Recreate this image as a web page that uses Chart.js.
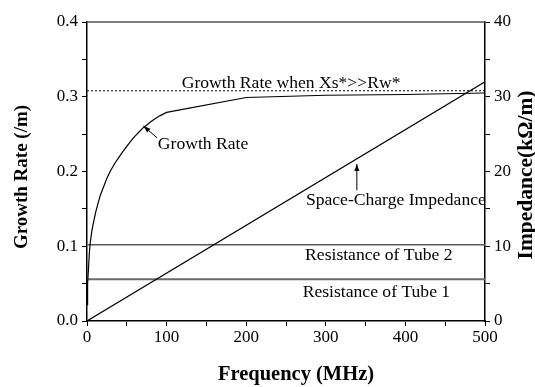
<!DOCTYPE html>
<html lang="en">
<head>
  <meta charset="UTF-8">
  <title>Growth Rate vs Frequency</title>
  <style>
    * { margin: 0; padding: 0; box-sizing: border-box; }
    body { background: #ffffff; width: 535px; height: 387px; overflow: hidden; }
    canvas { display: block; }
  </style>
  <script src="https://cdn.jsdelivr.net/npm/chart.js@4.4.1/dist/chart.umd.min.js"></script>
</head>
<body>
  <canvas id="growthChart" width="535" height="387"></canvas>

  <script>
    // data
    const growthFreq = [0, 0.5, 1, 2, 3, 4, 6, 8, 11, 14, 17, 21, 25, 29, 35, 40, 45, 50, 55, 60, 66, 71, 76, 80, 86, 92, 100, 200, 300, 400, 500];
    const growthRate = [0.022, 0.037, 0.05, 0.073, 0.092, 0.104, 0.12, 0.131, 0.146, 0.158, 0.169, 0.18, 0.191, 0.2, 0.211, 0.219, 0.2265, 0.2335, 0.2405, 0.247, 0.2535, 0.259, 0.263, 0.2665, 0.271, 0.2748, 0.279, 0.299, 0.302, 0.303, 0.305];
    const asymptoteFreq = [0, 500];
    const asymptoteRate = [0.308, 0.308];
    const impedanceFreq = [0, 500];
    const impedanceValue = [0, 32];          // kOhm/m
    const tubeFreq = [0, 500];
    const tube2Resistance = [10.2, 10.2];    // kOhm/m
    const tube1Resistance = [5.6, 5.6];      // kOhm/m
    const xTicksMajor = [0, 100, 200, 300, 400, 500];
    const yTicksMajor = [0.0, 0.1, 0.2, 0.3, 0.4];
    const y1TicksMajor = [0, 10, 20, 30, 40];

    const toPoints = (xs, ys) => xs.map((x, i) => ({ x: x, y: ys[i] }));
    const isMajor = (v, list) => list.some(t => Math.abs(t - v) < 1e-6);

    const serif = '"Liberation Serif", "DejaVu Serif", serif';
    const tickFont = { family: serif, size: 17 };

    // labels, arrows, titles and top frame
    const notes = {
      id: 'notes',
      afterDraw(chart) {
        const c = chart.ctx;
        const x = chart.scales.x, y = chart.scales.y, y1 = chart.scales.y1;
        const area = chart.chartArea;

        c.save();
        // top frame
        c.strokeStyle = '#555';
        c.lineWidth = 1.5;
        c.beginPath();
        c.moveTo(area.left, area.top);
        c.lineTo(area.right, area.top);
        c.stroke();

        c.fillStyle = '#000';
        c.font = '17.6px ' + serif;
        c.textBaseline = 'middle';
        c.textAlign = 'left';
        c.fillText('Growth Rate when Xs*>>Rw*', x.getPixelForValue(119), y.getPixelForValue(0.3184));
        c.fillText('Growth Rate', x.getPixelForValue(89), y.getPixelForValue(0.236));
        c.fillText('Space-Charge Impedance', x.getPixelForValue(275), y.getPixelForValue(0.1619));
        c.fillText('Resistance of Tube 2', x.getPixelForValue(274), y.getPixelForValue(0.0883));
        c.fillText('Resistance of Tube 1', x.getPixelForValue(271), y.getPixelForValue(0.0388));

        // arrows
        function arrow(x0, y0, x1, y1p) {
          const ang = Math.atan2(y1p - y0, x1 - x0);
          c.strokeStyle = '#000';
          c.lineWidth = 1;
          c.beginPath();
          c.moveTo(x0, y0);
          c.lineTo(x1, y1p);
          c.stroke();
          const L = 7, W = 2.5;
          c.beginPath();
          c.moveTo(x1, y1p);
          c.lineTo(x1 - L * Math.cos(ang) + W * Math.sin(ang), y1p - L * Math.sin(ang) - W * Math.cos(ang));
          c.lineTo(x1 - L * Math.cos(ang) - W * Math.sin(ang), y1p - L * Math.sin(ang) + W * Math.cos(ang));
          c.closePath();
          c.fill();
        }
        arrow(x.getPixelForValue(88), y.getPixelForValue(0.245), x.getPixelForValue(71), y.getPixelForValue(0.261));
        arrow(x.getPixelForValue(339), y1.getPixelForValue(17.5), x.getPixelForValue(339), y1.getPixelForValue(21.0));

        // axis titles
        c.textAlign = 'center';
        c.font = 'bold 20.5px ' + serif;
        c.fillText('Frequency (MHz)', 296, 375);
        c.font = 'bold 19px ' + serif;
        c.save();
        c.translate(22, 177);
        c.rotate(-Math.PI / 2);
        c.fillText('Growth Rate (/m)', 0, 0);
        c.restore();
        c.font = 'bold 21.5px ' + serif;
        c.save();
        c.translate(526, 175);
        c.rotate(-Math.PI / 2);
        c.fillText('Impedance(k\u03A9/m)', 0, 0);
        c.restore();
        c.restore();
      }
    };

    const tickGrid = { display: true, drawOnChartArea: false, drawTicks: true, tickLength: 5, tickColor: '#000', tickWidth: 1 };
    const axisBorder = { display: true, color: '#000', width: 1.5 };

    new Chart(document.getElementById('growthChart').getContext('2d'), {
      type: 'line',
      data: {
        datasets: [
          {
            label: 'Growth Rate',
            data: toPoints(growthFreq, growthRate),
            borderColor: '#000', borderWidth: 1.2, pointRadius: 0, tension: 0, yAxisID: 'y'
          },
          {
            label: 'Growth Rate when Xs*>>Rw*',
            data: toPoints(asymptoteFreq, asymptoteRate),
            borderColor: '#000', borderWidth: 1, borderDash: [2, 2], pointRadius: 0, yAxisID: 'y'
          },
          {
            label: 'Space-Charge Impedance',
            data: toPoints(impedanceFreq, impedanceValue),
            borderColor: '#000', borderWidth: 1.2, pointRadius: 0, yAxisID: 'y1'
          },
          {
            label: 'Resistance of Tube 2',
            data: toPoints(tubeFreq, tube2Resistance),
            borderColor: '#5a5a5a', borderWidth: 1.5, pointRadius: 0, yAxisID: 'y1'
          },
          {
            label: 'Resistance of Tube 1',
            data: toPoints(tubeFreq, tube1Resistance),
            borderColor: '#6a6a6a', borderWidth: 2, pointRadius: 0, yAxisID: 'y1'
          }
        ]
      },
      options: {
        responsive: false,
        animation: false,
        devicePixelRatio: 1,
        layout: { padding: { top: 22, left: 0, right: 0, bottom: 0 } },
        plugins: { legend: { display: false }, tooltip: { enabled: false } },
        scales: {
          x: {
            type: 'linear', min: 0, max: 500,
            ticks: {
              stepSize: 50, color: '#000', font: tickFont, padding: 1, maxRotation: 0,
              callback: v => isMajor(v, xTicksMajor) ? String(v) : ''
            },
            grid: tickGrid, border: axisBorder,
            afterFit: s => { s.height = 66; }
          },
          y: {
            type: 'linear', position: 'left', min: 0, max: 0.4,
            ticks: {
              stepSize: 0.05, color: '#000', font: tickFont, padding: 4,
              callback: v => isMajor(v, yTicksMajor) ? v.toFixed(1) : ''
            },
            grid: tickGrid, border: axisBorder,
            afterFit: s => { s.width = 87; }
          },
          y1: {
            type: 'linear', position: 'right', min: 0, max: 40,
            ticks: {
              stepSize: 5, color: '#000', font: tickFont, padding: 4,
              callback: v => isMajor(v, y1TicksMajor) ? String(v) : ''
            },
            grid: tickGrid, border: axisBorder,
            afterFit: s => { s.width = 50; }
          }
        }
      },
      plugins: [notes]
    });
  </script>
</body>
</html>
